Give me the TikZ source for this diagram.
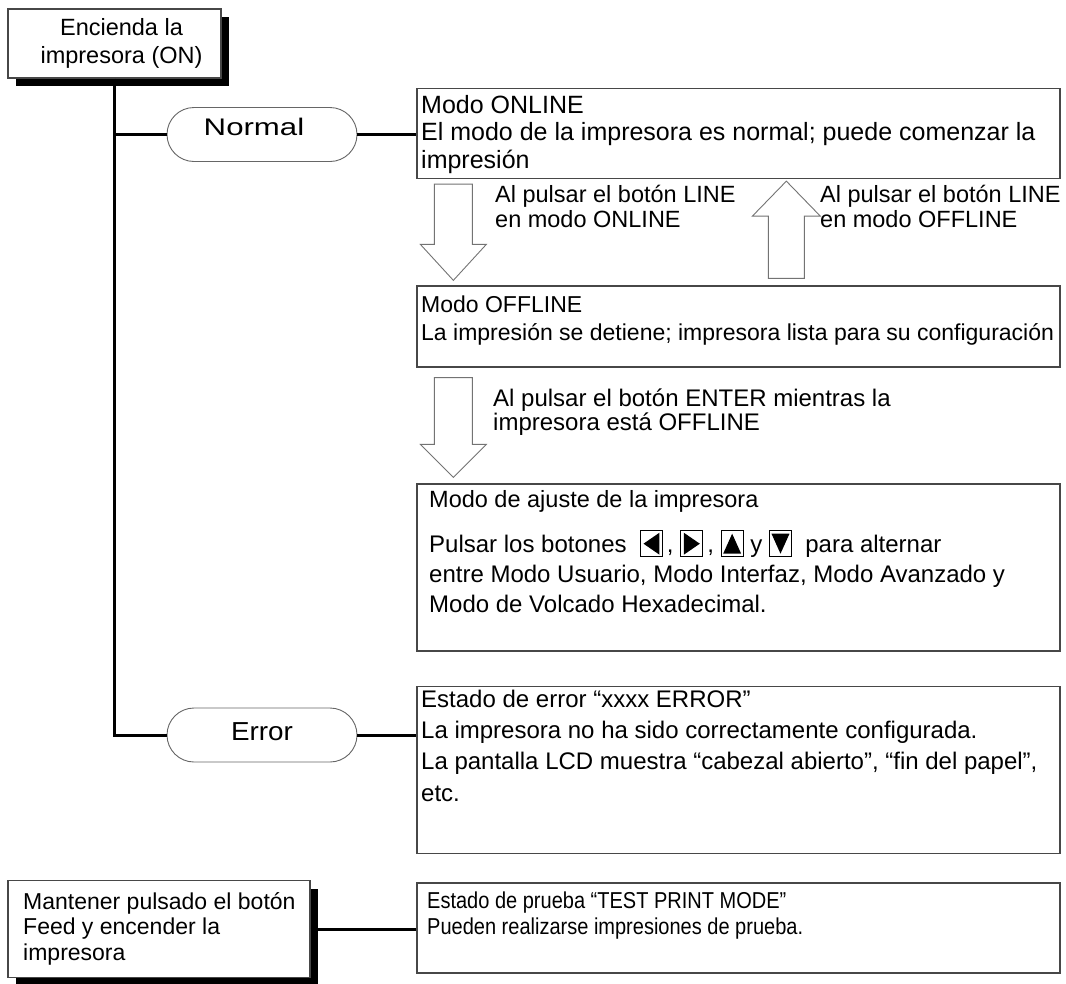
\documentclass[tikz,border=0pt]{standalone}
\usepackage{fontspec}
\setmainfont{Liberation Sans}
\newfontfamily\narrowfont[FakeStretch=0.87]{Liberation Sans}
\usepackage{graphicx}
\usetikzlibrary{shadows,calc}
\newcommand\firstln{\rule{0pt}{18pt}}
\newcommand\btnbox[1]{\tikz[baseline=4pt,x=1pt,y=1pt]{\draw[line width=1pt,black] (0,0) rectangle (22,26); \fill[black] #1 -- cycle;}}
\newcommand\btnL{\btnbox{(3,13) -- (19,24) -- (19,2)}}
\newcommand\btnR{\btnbox{(3,2) -- (3,24) -- (19,13)}}
\newcommand\btnU{\btnbox{(2,3) -- (20,3) -- (11,23)}}
\newcommand\btnD{\btnbox{(2,23) -- (20,23) -- (11,3)}}
\begin{document}
\begin{tikzpicture}[x=1pt,y=-1pt,
  link/.style={line width=3pt,black},
  box/.style={draw=black!72,line width=1.3pt,fill=white,inner sep=0pt},
  shbox/.style={box,drop shadow={shadow xshift=8pt,shadow yshift=-8pt,fill=black,opacity=1}},
  pill/.style={draw=black!60,line width=0.9pt,rounded corners=27pt,fill=white,minimum width=190pt,minimum height=54pt,inner sep=0pt},
  txt/.style={align=left,inner sep=0pt,anchor=north west},
  barrow/.style={draw=black!55,line width=0.9pt,fill=white}]
\useasboundingbox[fill=white] (0,0) rectangle (1066,983);

% boxes
\node[shbox,minimum width=213pt,minimum height=69pt,align=center,font=\fontsize{23.5}{28}\selectfont] (on) at (114.5,43.5) {\hspace*{14pt}Encienda la\\\hspace*{14pt}impresora (ON)};
\node[pill,font=\fontsize{24}{24}\selectfont,text height=10pt,text depth=8pt] (normal) at (262,134.5) {\scalebox{1.3}[1]{Normal}\hspace*{16pt}};
\node[pill,font=\fontsize{26}{26}\selectfont,text height=14pt,text depth=4pt] (err) at (262,735) {\scalebox{1.07}[1]{Error}};

\node[box,minimum width=643pt,minimum height=90pt] (online) at (738.5,133.5) {};
\node[box,minimum width=643pt,minimum height=81pt] (offline) at (738.5,326.5) {};
\node[box,minimum width=643pt,minimum height=167pt] (ajuste) at (738.5,567.5) {};
\node[box,minimum width=643pt,minimum height=167pt] (errbox) at (738.5,770) {};
\node[box,minimum width=643pt,minimum height=90pt] (test) at (738.5,928) {};
\node[shbox,minimum width=302pt,minimum height=97pt] (feed) at (159,929) {};

% texts
\node[txt,font=\fontsize{25}{27.5}\selectfont] (onlinet) at (421,95) {\firstln Modo ONLINE\\El modo de la impresora es normal; puede comenzar la\\impresión};
\node[txt,font=\fontsize{23.5}{25}\selectfont] (a1t) at (495,184) {\firstln Al pulsar el botón LINE\\en modo ONLINE};
\node[txt,font=\fontsize{23.5}{25}\selectfont] (a2t) at (820,184) {\firstln Al pulsar el botón LINE\\en modo OFFLINE};
\node[txt,font=\fontsize{23}{28}\selectfont] (offlinet) at (421,294) {\firstln Modo OFFLINE\\La impresión se detiene; impresora lista para su configuración};
\node[txt,font=\fontsize{24}{24}\selectfont] (a3t) at (493,388) {\firstln Al pulsar el botón ENTER mientras la\\impresora está OFFLINE};
\node[txt,font=\fontsize{23.5}{28}\selectfont] (ajustet) at (429,489) {\firstln Modo de ajuste de la impresora};
\node[txt,font=\fontsize{24}{30}\selectfont] (ajusteb) at (429,530) {Pulsar los botones\ \ \btnL\,, \btnR\,, \btnU\ y \btnD\ \ para alternar\\entre Modo Usuario, Modo Interfaz, Modo Avanzado y\\Modo de Volcado Hexadecimal.};
\node[txt,font=\fontsize{24}{31.3}\selectfont] (errt) at (421,689) {\firstln Estado de error “xxxx ERROR”\\La impresora no ha sido correctamente configurada.\\La pantalla LCD muestra “cabezal abierto”, “fin del papel”,\\etc.};
\node[txt,font=\narrowfont\fontsize{23}{26}\selectfont] (testt) at (427,890) {\firstln Estado de prueba “TEST PRINT MODE”\\Pueden realizarse impresiones de prueba.};
\node[txt,font=\fontsize{23}{25.5}\selectfont] (feedt) at (23,891) {\firstln Mantener pulsado el botón\\Feed y encender la\\impresora};

% connectors
\draw[link] (on.south) -- (on.south |- err.west) -- (err.west);
\draw[link] (on.south |- normal.west) -- (normal.west);
\draw[link] (normal.east) -- (normal.east -| online.west);
\draw[link] (err.east) -- (err.east -| errbox.west);
\draw[link] (feed.east) -- (feed.east -| test.west);

% block arrows
\coordinate (d1s) at ($(online.south west)+(37,5)$);
\coordinate (d1e) at ($(offline.north west)+(37,-5)$);
\draw[barrow] ($(d1s)+(-19,0)$) -- ($(d1s)+(19,0)$) -- ($(d1e)+(19,-36)$) -- ($(d1e)+(33,-36)$) -- (d1e) -- ($(d1e)+(-33,-36)$) -- ($(d1e)+(-19,-36)$) -- cycle;
\coordinate (u1s) at ($(offline.north west)+(370,-7)$);
\coordinate (u1e) at ($(online.south west)+(370,2)$);
\draw[barrow] ($(u1s)+(-18,0)$) -- ($(u1s)+(18,0)$) -- ($(u1e)+(18,35)$) -- ($(u1e)+(34,35)$) -- (u1e) -- ($(u1e)+(-34,35)$) -- ($(u1e)+(-18,35)$) -- cycle;
\coordinate (d2s) at ($(offline.south west)+(37,10)$);
\coordinate (d2e) at ($(ajuste.north west)+(37,-6)$);
\draw[barrow] ($(d2s)+(-19,0)$) -- ($(d2s)+(19,0)$) -- ($(d2e)+(19,-33)$) -- ($(d2e)+(33,-33)$) -- (d2e) -- ($(d2e)+(-33,-33)$) -- ($(d2e)+(-19,-33)$) -- cycle;
\end{tikzpicture}
\end{document}
